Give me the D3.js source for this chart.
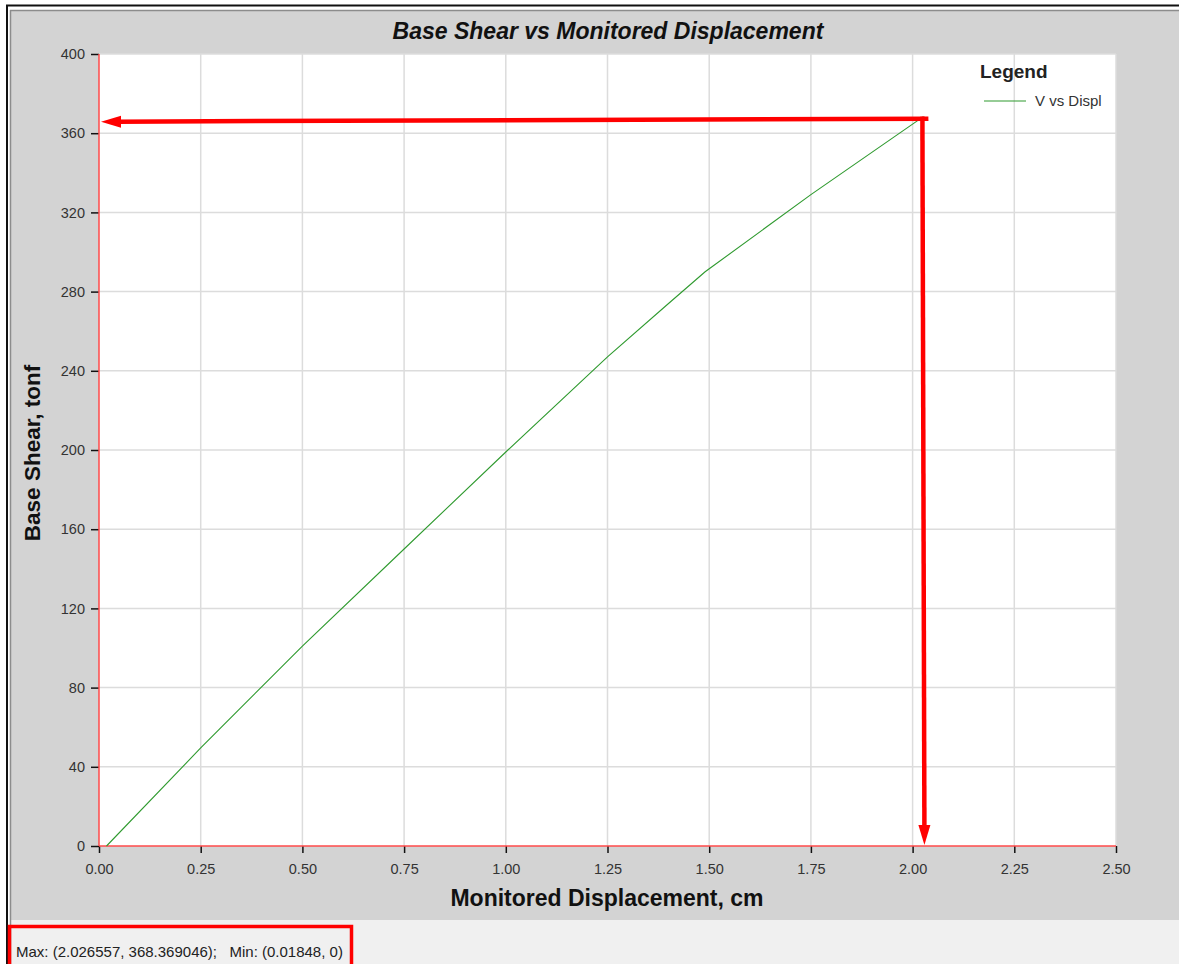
<!DOCTYPE html>
<html>
<head>
<meta charset="utf-8">
<script src="https://cdn.jsdelivr.net/npm/d3@7"></script>
<style>
  html, body { margin: 0; padding: 0; background: #ffffff; }
  svg { display: block; font-family: "Liberation Sans", Arial, sans-serif; }
</style>
</head>
<body>
<svg id="chart" width="1179" height="964"></svg>
<script>
// Pushover curve: monitored roof displacement (cm) vs base shear (tonf)
const displacement = [0.01848, 0.25, 0.50, 0.75, 1.00, 1.25, 1.40, 1.49, 1.75, 2.026557];
const baseShear    = [0, 49.5, 101, 150, 199, 247, 274, 290, 329, 368.369046];

const xTicks = [0, 0.25, 0.5, 0.75, 1.0, 1.25, 1.5, 1.75, 2.0, 2.25, 2.5];
const yTicks = [0, 40, 80, 120, 160, 200, 240, 280, 320, 360, 400];

const titleText = "Base Shear vs Monitored Displacement";
const xLabel = "Monitored Displacement, cm";
const yLabel = "Base Shear, tonf";
const legendTitle = "Legend";
const seriesName = "V vs Displ";

(function draw() {
  const points = displacement.map((d, i) => ({ x: d, y: baseShear[i] }));
  const maxPt = points.reduce((a, b) => (b.y > a.y ? b : a));
  const minPt = points.reduce((a, b) => (b.y < a.y ? b : a));

  const svg = d3.select("#chart");
  const W = 1179, H = 964;

  // window frame and panels
  svg.append("rect").attr("x", 0).attr("y", 0).attr("width", W).attr("height", H).attr("fill", "#ffffff");
  svg.append("rect").attr("x", 10).attr("y", 10).attr("width", W - 10).attr("height", 910).attr("fill", "#d3d3d3");
  svg.append("rect").attr("x", 10).attr("y", 920).attr("width", W - 10).attr("height", H - 920).attr("fill", "#f0f0f0");
  svg.append("line").attr("x1", 10).attr("x2", W).attr("y1", 10.5).attr("y2", 10.5).attr("stroke", "#8c8c8c").attr("stroke-width", 1.5);
  svg.append("line").attr("x1", 10.5).attr("x2", 10.5).attr("y1", 10).attr("y2", H).attr("stroke", "#8c8c8c").attr("stroke-width", 1.5);
  svg.append("line").attr("x1", 6).attr("x2", W).attr("y1", 5.5).attr("y2", 5.5).attr("stroke", "#111").attr("stroke-width", 2);
  svg.append("line").attr("x1", 7).attr("x2", 7).attr("y1", 5).attr("y2", H).attr("stroke", "#111").attr("stroke-width", 2);

  // plot area
  const pLeft = 99, pRight = 1116, pTop = 54, pBottom = 846;
  const x = d3.scaleLinear().domain([0, 2.5]).range([pLeft, pRight]);
  const y = d3.scaleLinear().domain([0, 400]).range([pBottom, pTop]);

  svg.append("rect").attr("x", pLeft).attr("y", pTop)
    .attr("width", pRight - pLeft).attr("height", pBottom - pTop).attr("fill", "#ffffff");

  // grid
  const grid = svg.append("g").attr("stroke", "#dcdcdc").attr("stroke-width", 1.5);
  grid.selectAll(".gx").data(xTicks.slice(1)).join("line")
    .attr("x1", d => x(d)).attr("x2", d => x(d)).attr("y1", pTop).attr("y2", pBottom);
  grid.selectAll(".gy").data(yTicks.slice(1)).join("line")
    .attr("x1", pLeft).attr("x2", pRight).attr("y1", d => y(d)).attr("y2", d => y(d));

  // axes
  const xAxis = d3.axisBottom(x).tickValues(xTicks).tickFormat(d3.format(".2f")).tickSize(7).tickPadding(11);
  const yAxis = d3.axisLeft(y).tickValues(yTicks).tickFormat(d3.format("d")).tickSize(8).tickPadding(6);

  const gx = svg.append("g").attr("transform", `translate(0,${pBottom})`).call(xAxis);
  const gy = svg.append("g").attr("transform", `translate(${pLeft},0)`).call(yAxis);
  [gx, gy].forEach(g => {
    g.select(".domain").remove();
    g.selectAll(".tick line").attr("stroke", "#111").attr("stroke-width", 1.5);
    g.selectAll(".tick text").attr("fill", "#333").style("font-size", "14.5px")
      .style("font-family", "'Liberation Sans', Arial, sans-serif");
  });

  // red axis lines
  svg.append("line").attr("x1", pLeft).attr("x2", pRight).attr("y1", pBottom).attr("y2", pBottom)
    .attr("stroke", "#ff4a4a").attr("stroke-width", 1.5);
  svg.append("line").attr("x1", pLeft).attr("x2", pLeft).attr("y1", pTop).attr("y2", pBottom)
    .attr("stroke", "#ff4a4a").attr("stroke-width", 1.5);

  // curve
  const line = d3.line().x(d => x(d.x)).y(d => y(d.y));
  svg.append("path").datum(points).attr("d", line)
    .attr("fill", "none").attr("stroke", "#2f9a2f").attr("stroke-width", 1.1);

  // annotation arrows from the peak point to both axes
  const px = x(maxPt.x), py = y(maxPt.y);
  svg.append("line").attr("x1", px + 5).attr("y1", py + 2).attr("x2", x(0) + 18).attr("y2", py + 5)
    .attr("stroke", "#ff0000").attr("stroke-width", 4.5);
  svg.append("path")
    .attr("d", `M${x(0) + 2},${py + 5} L${x(0) + 22},${py - 1} L${x(0) + 22},${py + 11} Z`)
    .attr("fill", "#ff0000");
  svg.append("line").attr("x1", px - 1).attr("y1", py).attr("x2", px + 1).attr("y2", y(0) - 18)
    .attr("stroke", "#ff0000").attr("stroke-width", 4.5);
  svg.append("path")
    .attr("d", `M${px + 1},${y(0) - 1} L${px - 5},${y(0) - 21} L${px + 7},${y(0) - 21} Z`)
    .attr("fill", "#ff0000");

  // titles
  svg.append("text").attr("x", 608).attr("y", 39).attr("text-anchor", "middle")
    .style("font-size", "23px").style("font-weight", "bold").style("font-style", "italic")
    .attr("fill", "#111").text(titleText);
  svg.append("text").attr("x", 607).attr("y", 906).attr("text-anchor", "middle")
    .style("font-size", "23px").style("font-weight", "bold").attr("fill", "#111").text(xLabel);
  svg.append("text").attr("transform", "translate(40,453) rotate(-90)").attr("text-anchor", "middle")
    .style("font-size", "22.5px").style("font-weight", "bold").attr("fill", "#111").text(yLabel);

  // legend
  svg.append("text").attr("x", 980).attr("y", 78)
    .style("font-size", "19px").style("font-weight", "bold").attr("fill", "#222").text(legendTitle);
  svg.append("line").attr("x1", 984).attr("x2", 1026).attr("y1", 101).attr("y2", 101)
    .attr("stroke", "#2f9a2f").attr("stroke-width", 1.2);
  svg.append("text").attr("x", 1035).attr("y", 106)
    .style("font-size", "15px").attr("fill", "#333").text(seriesName);

  // status line with extreme values
  svg.append("rect").attr("x", 9.5).attr("y", 926.5).attr("width", 342).attr("height", 45)
    .attr("fill", "none").attr("stroke", "#ff0000").attr("stroke-width", 3.5);
  svg.append("text").attr("x", 16).attr("y", 957)
    .style("font-size", "15px").attr("fill", "#222").style("white-space", "pre")
    .text(`Max: (${maxPt.x}, ${maxPt.y});   Min: (${minPt.x}, ${minPt.y})`);
})();
</script>
</body>
</html>
